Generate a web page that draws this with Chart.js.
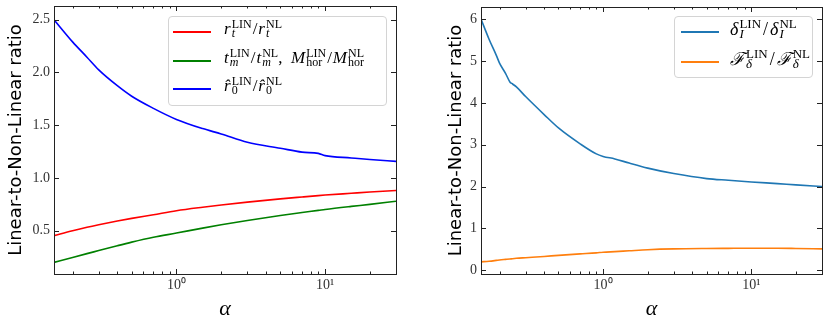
<!DOCTYPE html>
<html>
<head>
<meta charset="utf-8">
<script src="https://cdn.jsdelivr.net/npm/chart.js@4.4.1/dist/chart.umd.min.js"></script>
<style>
  body { margin: 0; background: #fff; }
  #wrap { position: relative; width: 830px; height: 324px; overflow: hidden; }
  canvas { position: absolute; top: 0; }
  .legend { position: absolute; border: 1px solid #d4d4d4; border-radius: 4px; background: rgba(255,255,255,0.8);
            font-family: "Liberation Serif", serif; font-size: 17px; color: #000; }
  .row { position: absolute; left: 0; height: 24px; white-space: nowrap; }
  .swatch { position: absolute; width: 38px; height: 2px; top: 11px; }
  .txt { position: absolute; top: -3px; line-height: 24px; }
  .ss { display: inline-block; vertical-align: -3px; font-size: 12px; line-height: 9px; margin-left: 1px; }
  .ss span { display: block; }
  .sl { padding: 0 1px; }
  .big { font-size: 18px; }
  .big .ss { font-size: 13px; line-height: 10px; }
  .big .sl { padding: 0 2px; }
</style>
</head>
<body>
<div id="wrap">
  <canvas id="left" width="415" height="324" style="left:0"></canvas>
  <canvas id="right" width="415" height="324" style="left:415px"></canvas>
</div>
<script>
// valores
const alphaLeft = [0.15, 0.2, 0.25, 0.3, 0.4, 0.5, 0.7, 1, 1.5, 2, 3, 5, 7, 9, 10, 15, 20, 30];
const ratioRt   = [0.453, 0.50, 0.533, 0.557, 0.592, 0.617, 0.652, 0.69, 0.723, 0.744, 0.771, 0.802, 0.82, 0.833, 0.838, 0.855, 0.867, 0.882];
const ratioTm   = [0.20, 0.247, 0.283, 0.312, 0.358, 0.392, 0.438, 0.478, 0.525, 0.556, 0.597, 0.645, 0.673, 0.693, 0.702, 0.731, 0.75, 0.78];
const ratioR0   = [2.50, 2.29, 2.145, 2.025, 1.875, 1.775, 1.66, 1.555, 1.468, 1.417, 1.338, 1.282, 1.245, 1.233, 1.212, 1.19, 1.175, 1.157];

const alphaRight = [0.15, 0.17, 0.19, 0.2, 0.22, 0.235, 0.245, 0.26, 0.3, 0.4, 0.5, 0.7, 0.9, 1, 1.2, 1.5, 2, 3, 5, 7, 10, 15, 20, 30];
const ratioDeltaI = [6.0, 5.52, 5.14, 4.95, 4.70, 4.50, 4.45, 4.38, 4.15, 3.72, 3.40, 3.02, 2.78, 2.72, 2.66, 2.56, 2.44, 2.31, 2.19, 2.15, 2.11, 2.07, 2.04, 2.0];
const ratioFdelta = [0.20, 0.215, 0.235, 0.245, 0.26, 0.27, 0.275, 0.285, 0.30, 0.33, 0.355, 0.39, 0.415, 0.43, 0.445, 0.465, 0.49, 0.51, 0.52, 0.523, 0.525, 0.525, 0.52, 0.51];

const xMajorTicks = [1, 10];
const xMajorLabels = ['10⁰', '10¹'];
const xMinorTicks = [0.2, 0.3, 0.4, 0.5, 0.6, 0.7, 0.8, 0.9, 2, 3, 4, 5, 6, 7, 8, 9, 20, 30];
const yTicksLeft = [0.5, 1.0, 1.5, 2.0, 2.5];
const yTicksRight = [0, 1, 2, 3, 4, 5, 6];

const legendLeft = [
  '<i>r</i><span class="ss"><span>LIN</span><span><i>t</i></span></span><span class="sl">/</span><i>r</i><span class="ss"><span>NL</span><span><i>t</i></span></span>',
  '<i>t</i><span class="ss"><span>LIN</span><span><i>m</i></span></span><span class="sl">/</span><i>t</i><span class="ss"><span>NL</span><span><i>m</i></span></span>,&nbsp; <i>M</i><span class="ss"><span>LIN</span><span>hor</span></span><span class="sl">/</span><i>M</i><span class="ss"><span>NL</span><span>hor</span></span>',
  '<i>r̂</i><span class="ss"><span>LIN</span><span>0</span></span><span class="sl">/</span><i>r̂</i><span class="ss"><span>NL</span><span>0</span></span>'
];
const legendRight = [
  '<i>δ</i><span class="ss"><span>LIN</span><span><i>I</i></span></span><span class="sl">/</span><i>δ</i><span class="ss"><span>NL</span><span><i>I</i></span></span>',
  '<i>ℱ</i><span class="ss"><span>LIN</span><span><i>δ</i></span></span><span class="sl">/</span><i>ℱ</i><span class="ss"><span>NL</span><span><i>δ</i></span></span>'
];

const xTickValues = [...xMinorTicks, ...xMajorTicks].sort((a, b) => a - b);

// marco y marcas hacia adentro, estilo matplotlib
const frameTicks = {
  id: 'frameTicks',
  afterDatasetsDraw(chart) {
    const { ctx, chartArea: a, scales: { x, y } } = chart;
    ctx.save();
    ctx.strokeStyle = '#222';
    ctx.lineWidth = 1;
    ctx.beginPath();
    y.ticks.forEach(t => {
      const p = Math.round(y.getPixelForValue(t.value)) + 0.5;
      ctx.moveTo(a.left, p); ctx.lineTo(a.left + 5, p);
      ctx.moveTo(a.right, p); ctx.lineTo(a.right - 5, p);
    });
    x.ticks.forEach(t => {
      const len = xMajorTicks.includes(t.value) ? 5 : 2.5;
      const p = Math.round(x.getPixelForValue(t.value)) + 0.5;
      ctx.moveTo(p, a.bottom); ctx.lineTo(p, a.bottom - len);
      ctx.moveTo(p, a.top); ctx.lineTo(p, a.top + len);
    });
    ctx.stroke();
    ctx.strokeRect(Math.round(a.left) + 0.5, Math.round(a.top) + 0.5,
                   Math.round(a.right - a.left), Math.round(a.bottom - a.top));
    ctx.restore();
  }
};

function makePanel(id, alpha, series, yMin, yMax, yTicks, yFmt, yAxisWidth, titlePad, padRight, padTop) {
  const tickFont = { family: '"Liberation Serif", serif', size: 14 };
  return new Chart(document.getElementById(id), {
    type: 'line',
    data: {
      datasets: series.map(s => ({
        label: s.label,
        data: alpha.map((a, i) => ({ x: a, y: s.data[i] })),
        borderColor: s.color,
        borderWidth: 1.6,
        pointRadius: 0,
        cubicInterpolationMode: 'monotone',
        fill: false
      }))
    },
    options: {
      responsive: false,
      animation: false,
      layout: { padding: { left: 0, right: padRight, top: padTop, bottom: 0 } },
      plugins: { legend: { display: false }, tooltip: { enabled: false } },
      scales: {
        x: {
          type: 'logarithmic',
          min: 0.15,
          max: 30,
          grid: { display: false, drawTicks: false },
          border: { display: false },
          afterBuildTicks: sc => { sc.ticks = xTickValues.map(v => ({ value: v })); },
          afterFit: sc => { sc.height = 50; sc.paddingLeft = 0; sc.paddingRight = 0; },
          ticks: {
            autoSkip: false,
            maxRotation: 0,
            padding: 3,
            color: '#333',
            font: tickFont,
            callback: v => {
              const k = xMajorTicks.indexOf(v);
              return k >= 0 ? xMajorLabels[k] : '';
            }
          },
          title: {
            display: true,
            text: 'α',
            color: '#000',
            font: { family: '"Liberation Serif", serif', size: 22, style: 'italic' },
            padding: { top: 0, bottom: 2 }
          }
        },
        y: {
          min: yMin,
          max: yMax,
          grid: { display: false, drawTicks: false },
          border: { display: false },
          afterBuildTicks: sc => { sc.ticks = yTicks.map(v => ({ value: v })); },
          afterFit: sc => { sc.width = yAxisWidth; sc.paddingTop = 0; sc.paddingBottom = 0; },
          ticks: { padding: 4, color: '#333', font: tickFont, callback: yFmt },
          title: {
            display: true,
            text: 'Linear-to-Non-Linear ratio',
            color: '#000',
            font: { family: '"DejaVu Sans", sans-serif', size: 18 },
            padding: { top: titlePad, bottom: 0 }
          }
        }
      }
    },
    plugins: [frameTicks]
  });
}

makePanel('left', alphaLeft, [
  { label: 'rt', data: ratioRt, color: '#ff0000' },
  { label: 'tm', data: ratioTm, color: '#008000' },
  { label: 'r0', data: ratioR0, color: '#0000ff' }
], 0.09, 2.63, yTicksLeft, v => v.toFixed(1), 54, 6, 19, 6);

makePanel('right', alphaRight, [
  { label: 'deltaI', data: ratioDeltaI, color: '#1f77b4' },
  { label: 'Fdelta', data: ratioFdelta, color: '#ff7f0e' }
], -0.09, 6.29, yTicksRight, v => String(v), 66, 31, 8, 7);

// leyendas en HTML para poder usar sub/superíndices
function addLegend(left, top, width, height, labels, colors, rowTops, swatchLeft, textLeft, extraClass) {
  const box = document.createElement('div');
  box.className = 'legend' + (extraClass ? ' ' + extraClass : '');
  Object.assign(box.style, { left: left + 'px', top: top + 'px', width: width + 'px', height: height + 'px' });
  labels.forEach((html, i) => {
    const row = document.createElement('div');
    row.className = 'row';
    row.style.top = rowTops[i] + 'px';
    row.innerHTML = `<div class="swatch" style="left:${swatchLeft}px;background:${colors[i]}"></div>` +
                    `<div class="txt" style="left:${textLeft}px">${html}</div>`;
    box.appendChild(row);
  });
  document.getElementById('wrap').appendChild(box);
}

addLegend(168, 16, 217, 88, legendLeft, ['#ff0000', '#008000', '#0000ff'], [3, 32, 60], 4, 55);
addLegend(674, 16, 137, 60, legendRight, ['#1f77b4', '#ff7f0e'], [3, 33], 6, 55, 'big');
</script>
</body>
</html>
